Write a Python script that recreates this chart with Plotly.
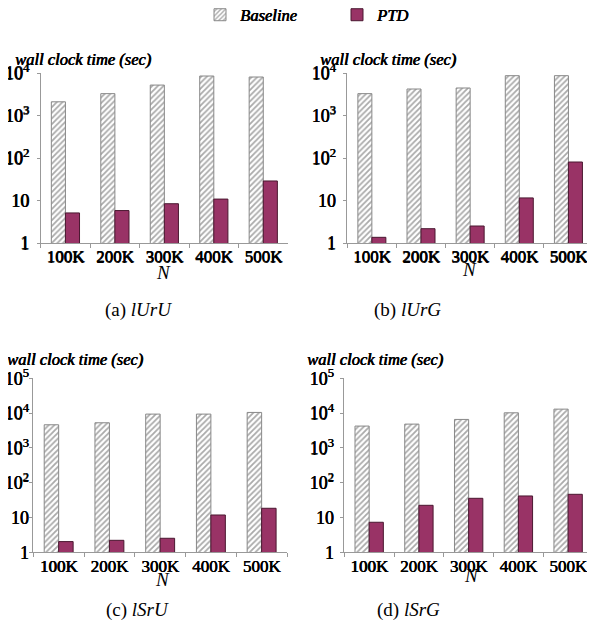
import plotly.graph_objects as go

# The page body has an 8px margin, so the figure is offset by 8px.
OFF = 8
W, H = 587, 617

categories = ["100K", "200K", "300K", "400K", "500K"]

baseline_a = [2100, 3270, 5200, 8500, 8050]
ptd_a = [5.1, 5.8, 8.4, 10.8, 28.8]

baseline_b = [3270, 4200, 4440, 8650, 8650]
ptd_b = [1.36, 2.17, 2.51, 11.5, 80.5]

baseline_c = [4620, 5270, 9360, 9360, 10450]
ptd_c = [2.03, 2.21, 2.53, 11.8, 18.4]

baseline_d = [4240, 4830, 6580, 10200, 13000]
ptd_d = [7.3, 22.4, 35.6, 41.6, 46.4]

captions = ["(a) <i>lUrU</i>", "(b) <i>lUrG</i>", "(c) <i>lSrU</i>", "(d) <i>lSrG</i>"]
y_title = "wall clock time (sec)"
x_title = "N"

tickvals_top = [1, 10, 100, 1000, 10000]
ticktext_top = ["1", "10", "10<sup>2</sup>", "10<sup>3</sup>", "10<sup>4</sup>"]
tickvals_bot = [1, 10, 100, 1000, 10000, 100000]
ticktext_bot = ["1", "10", "10<sup>2</sup>", "10<sup>3</sup>", "10<sup>4</sup>", "10<sup>5</sup>"]

SERIF = "Liberation Serif"
# no bold serif face is installed: emulate bold with a thin text shadow
BOLD = "0.6px 0 0 #000, 0.3px 0.3px 0 #000"
PTD_COLOR = "#993366"


def xp(x):
    return (x - OFF) / W


def yp(y):
    return 1 - (y - OFF) / H


# panel boxes in screen pixels: (x0, x1, ytop, ybottom)
panels = [
    (40.7, 288.0, 73.0, 243.0),
    (347.3, 593.0, 73.0, 243.0),
    (33.3, 287.0, 378.3, 552.3),
    (344.3, 593.0, 378.3, 552.3),
]
title_pos = [(12.7, 59), (318, 59), (5, 359), (305, 359)]
n_pos = [(163, 272), (470, 270), (162, 579), (472, 575)]
caption_pos = [(138, 310), (407, 310), (137, 610), (408, 610)]
ylabel_standoff = [4, 4, -3, 3]
series = [(baseline_a, ptd_a), (baseline_b, ptd_b), (baseline_c, ptd_c), (baseline_d, ptd_d)]

fig = go.Figure()
layout = {}
annotations = []

for i, ((x0, x1, yt, yb), (base, ptd)) in enumerate(zip(panels, series)):
    n = "" if i == 0 else str(i + 1)
    xa, ya = "x" + n, "y" + n
    fig.add_trace(go.Bar(
        x=categories, y=base, name="Baseline", xaxis=xa, yaxis=ya,
        marker=dict(color="white", line=dict(color="#888888", width=1),
                    pattern=dict(shape="/", fgcolor="#555555", bgcolor="white",
                                 size=4, solidity=0.45)),
        showlegend=(i == 0), legendgroup="b",
    ))
    fig.add_trace(go.Bar(
        x=categories, y=ptd, name="PTD", xaxis=xa, yaxis=ya,
        marker=dict(color=PTD_COLOR, line=dict(color="#4a1830", width=1)),
        showlegend=(i == 0), legendgroup="p",
    ))
    top_row = i < 2
    layout["xaxis" + n] = dict(
        domain=[xp(x0), xp(x1)], anchor=ya, showline=True, linecolor="#999999",
        linewidth=1, ticks="outside", tickson="boundaries", ticklen=4,
        tickcolor="#999999", showgrid=False, automargin=False, ticklabelstandoff=-2,
        tickangle=0,
        tickfont=dict(family=SERIF, size=17, color="black", shadow=BOLD),
    )
    layout["yaxis" + n] = dict(
        domain=[yp(yb), yp(yt)], anchor=xa, type="log",
        range=[0, 4] if top_row else [0, 5],
        tickvals=tickvals_top if top_row else tickvals_bot,
        ticktext=ticktext_top if top_row else ticktext_bot,
        showline=True, linecolor="#999999", linewidth=1, ticks="outside",
        ticklen=3, tickcolor="#999999", showgrid=False, zeroline=False,
        automargin=False, ticklabelstandoff=ylabel_standoff[i],
        tickfont=dict(family=SERIF, size=18, color="black", shadow=BOLD),
    )
    tx, ty = title_pos[i]
    annotations.append(dict(
        text=y_title, xref="paper", yref="paper", x=xp(tx), y=yp(ty),
        xanchor="left", yanchor="middle", showarrow=False,
        font=dict(family=SERIF, size=16.5, color="black", style="italic", shadow=BOLD),
    ))
    nx, ny = n_pos[i]
    annotations.append(dict(
        text=x_title, xref="paper", yref="paper", x=xp(nx), y=yp(ny),
        xanchor="center", yanchor="middle", showarrow=False,
        font=dict(family=SERIF, size=19, color="black", style="italic"),
    ))

for cap, (cx, cy) in zip(captions, caption_pos):
    annotations.append(dict(
        text=cap, xref="paper", yref="paper", x=xp(cx), y=yp(cy),
        xanchor="center", yanchor="middle", showarrow=False,
        font=dict(family=SERIF, size=19, color="black"),
    ))

fig.update_layout(
    width=W, height=H, margin=dict(l=0, r=0, t=0, b=0, autoexpand=False),
    paper_bgcolor="white", plot_bgcolor="white",
    barmode="group", bargap=0.43, bargroupgap=0,
    legend=dict(orientation="h", x=xp(200), xanchor="left", y=yp(15), yanchor="middle",
                font=dict(family=SERIF, size=16.5, color="black", style="italic", shadow=BOLD),
                itemwidth=30, traceorder="normal", entrywidth=92,
                bgcolor="rgba(0,0,0,0)"),
    annotations=annotations,
    **layout,
)

fig.write_html("out.html")
